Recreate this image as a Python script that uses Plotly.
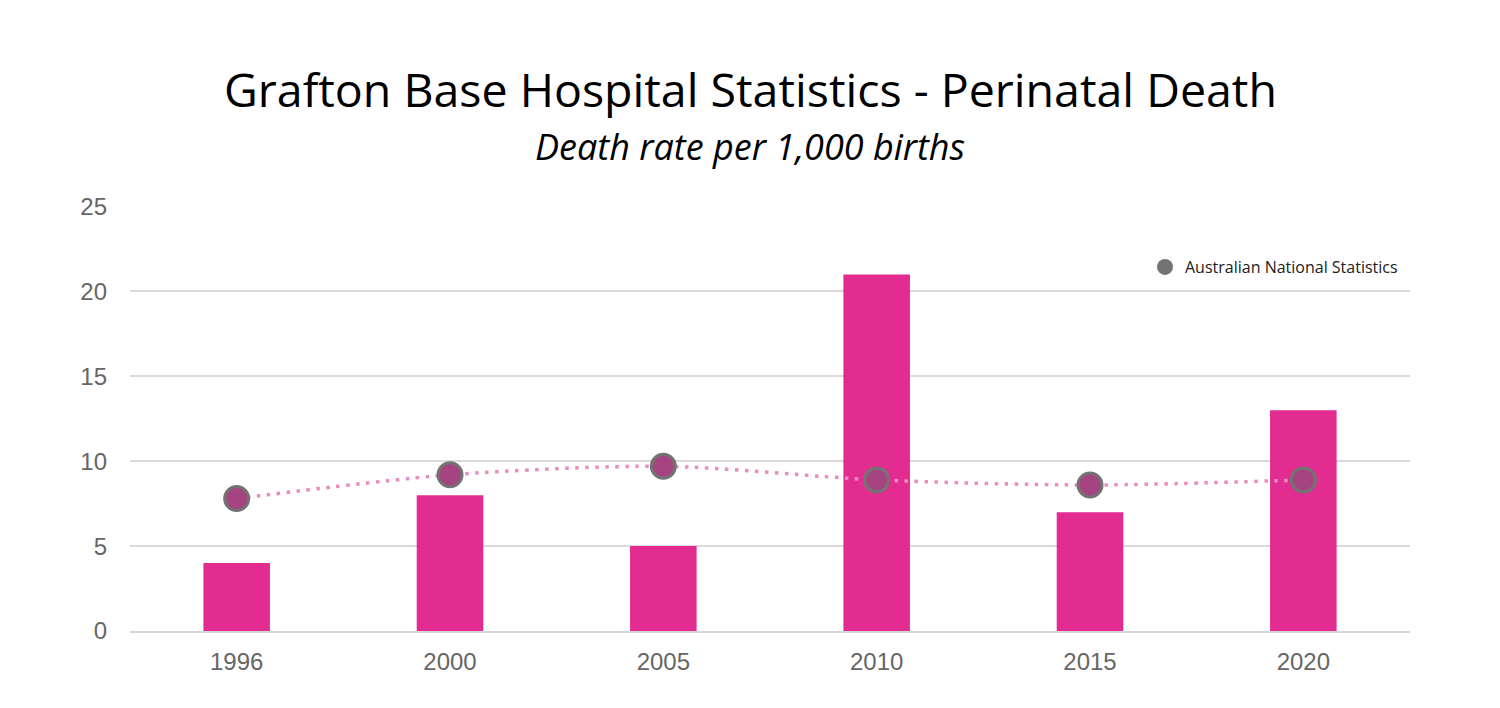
import plotly.graph_objects as go

years = ["1996", "2000", "2005", "2010", "2015", "2020"]
grafton_rate = [4, 8, 5, 21, 7, 13]
national_rate = [7.8, 9.2, 9.7, 8.9, 8.6, 8.9]
y_ticks = [0, 5, 10, 15, 20, 25]

BAR = "#E32C8F"
OFF = 8  # page body offset
L, T, R, B = 130 - OFF, 206 - OFF, 90 + OFF, 77 + OFF
W, H = 1500, 708

fig = go.Figure()
fig.add_trace(go.Bar(x=years, y=grafton_rate, marker=dict(color=BAR, line=dict(width=0)),
                     showlegend=False, name="Grafton Base Hospital"))
fig.add_trace(go.Scatter(x=years, y=national_rate, mode="lines+markers",
                         line=dict(color="#E98DC1", width=3.5, dash="3.5px,6.5px", shape="spline",
                                   smoothing=0.8),
                         marker=dict(size=24, color="rgb(165,68,128)",
                                     line=dict(color="#737373", width=3)),
                         showlegend=False, name="Australian National Statistics"))
fig.add_trace(go.Scatter(x=[None], y=[None], mode="markers",
                         marker=dict(size=20, color="#737373"),
                         name="Australian National Statistics", showlegend=True))

plot_h = H - T - B
plot_w = W - L - R

def py(y_page):
    return (H - B - (y_page - OFF)) / plot_h

def px(x_page):
    return (x_page - OFF - L) / plot_w

fig.update_layout(
    width=W, height=H,
    paper_bgcolor="white", plot_bgcolor="white",
    margin=dict(l=L, r=R, t=T, b=B),
    bargap=0.688,
    font=dict(family="Liberation Sans, Arial", color="#666666"),
    legend=dict(x=px(1403), xanchor="right", y=py(267), yanchor="middle",
                font=dict(family="Open Sans", size=16, color="#222222"),
                bgcolor="rgba(0,0,0,0)", itemwidth=30),
    xaxis=dict(showgrid=False, showline=True, linecolor="#d6d6d6", linewidth=2,
               tickfont=dict(size=24, color="#666666"), ticks="", ticklabelstandoff=8),
    yaxis=dict(range=[0, 25.03], tickvals=y_ticks, showgrid=True, gridcolor="#dadada", gridwidth=2,
               zeroline=False, showline=False, tickfont=dict(size=24, color="#666666"),
               ticks="", ticklabelstandoff=22),
    annotations=[
        dict(text="Grafton Base Hospital Statistics - Perinatal Death", x=px(750), y=py(89),
             xref="paper", yref="paper", showarrow=False, xanchor="center", yanchor="middle",
             font=dict(family="Open Sans", size=46.5, color="#000000")),
        dict(text="<i>Death rate per 1,000 births</i>", x=px(750), y=py(147),
             xref="paper", yref="paper", showarrow=False, xanchor="center", yanchor="middle",
             font=dict(family="Open Sans", size=36, color="#000000")),
    ],
)

fig.write_html("out.html")
